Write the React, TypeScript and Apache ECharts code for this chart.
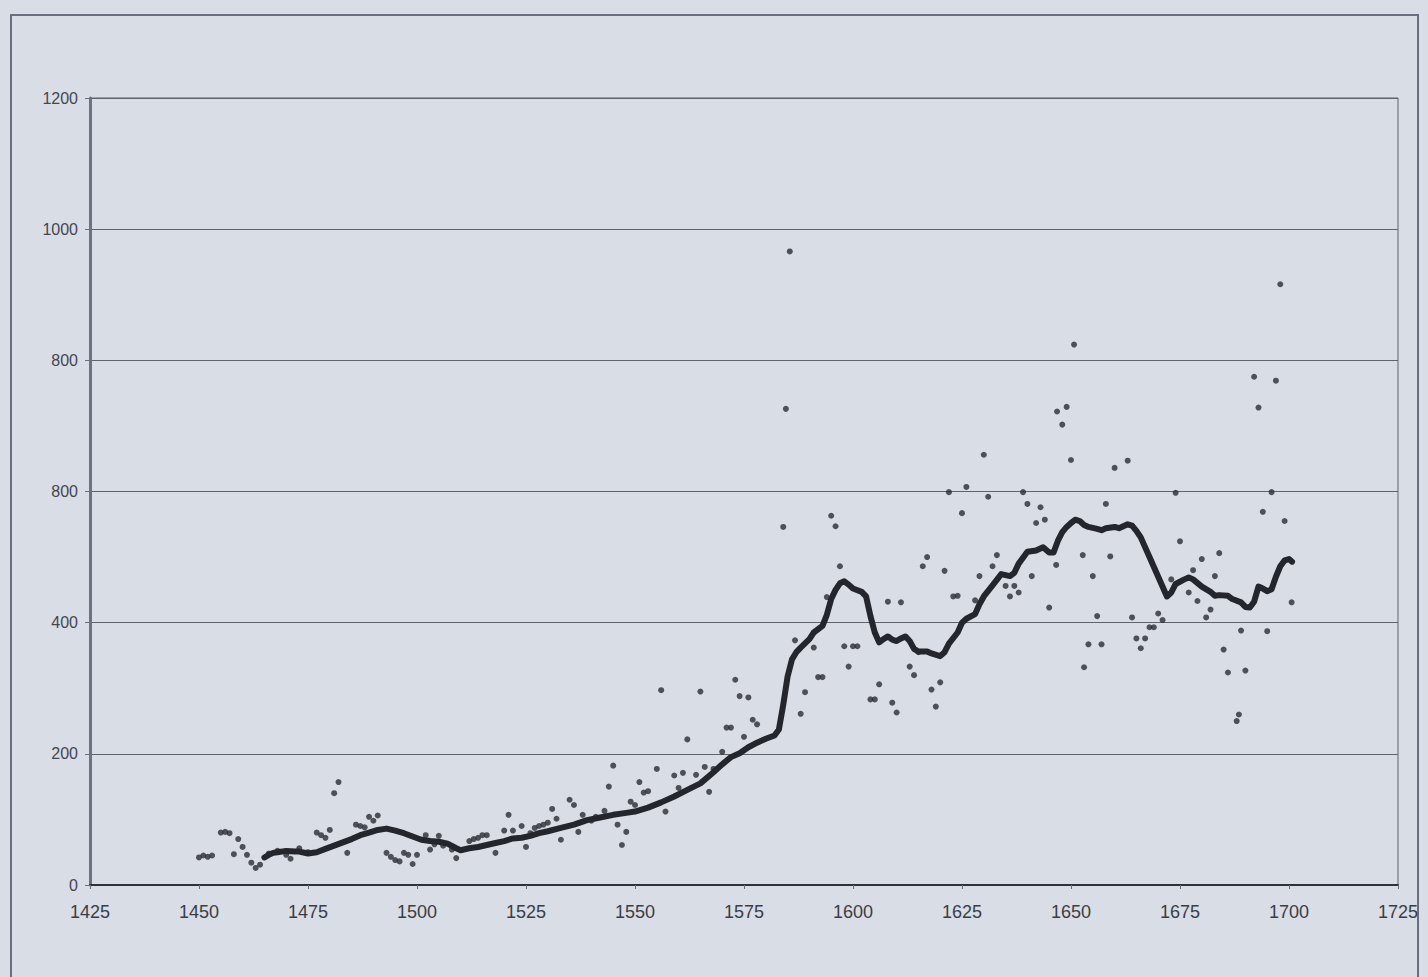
import React, { useEffect, useRef } from "react";
import * as echarts from "echarts";

// Axis ticks as printed on the chart (the scan shows "800" at the 600 gridline)
const yTickLabels: string[] = ["0", "200", "400", "800", "800", "1000", "1200"];
const xMin = 1425;
const xMax = 1725;
const xStep = 25;
const yMin = 0;
const yMax = 1200;
const yStep = 200;

// Moving-average (thick line): [year, value]
const trendPoints: [number, number][] = [
  [1465, 42], [1466, 46], [1467, 49], [1468, 50], [1470, 52], [1472, 51], [1473, 51],
  [1475, 48], [1477, 50], [1479, 55], [1481, 60], [1483, 65], [1485, 70], [1487, 76],
  [1489, 80], [1491, 84], [1493, 86], [1495, 83], [1497, 79], [1499, 74], [1501, 69],
  [1503, 67], [1505, 66], [1507, 63], [1509, 56], [1510, 53], [1512, 56], [1514, 58],
  [1516, 61], [1518, 64], [1520, 67], [1522, 71], [1524, 72], [1526, 75], [1528, 79],
  [1530, 82], [1533, 87], [1536, 92], [1539, 99], [1542, 103], [1545, 107], [1548, 110],
  [1550, 112], [1553, 118], [1556, 126], [1559, 135], [1562, 145], [1565, 155], [1568, 172],
  [1570, 184], [1572, 195], [1574, 201], [1576, 210], [1578, 217], [1580, 223], [1582, 228],
  [1583, 237], [1584, 275], [1585, 318], [1586, 344], [1587, 355], [1588, 362], [1590, 375],
  [1591, 385], [1593, 395], [1594, 412], [1595, 436], [1596, 450], [1597, 460], [1598, 463],
  [1599, 458], [1600, 452], [1602, 447], [1603, 440], [1604, 410], [1605, 385], [1606, 370],
  [1607, 375], [1608, 379], [1609, 374], [1610, 372], [1611, 376], [1612, 379], [1613, 372],
  [1614, 360], [1615, 356], [1617, 356], [1618, 353], [1620, 349], [1621, 355], [1622, 368],
  [1624, 385], [1625, 400], [1626, 406], [1628, 413], [1629, 428], [1630, 440], [1632, 457],
  [1634, 474], [1636, 471], [1637, 476], [1638, 490], [1640, 508], [1642, 510], [1643.6, 515],
  [1645, 507], [1646, 507], [1647, 525], [1648, 538], [1649, 546], [1650, 552], [1651, 557],
  [1652, 555], [1653, 549], [1654, 546], [1656, 543], [1657, 541], [1658, 544], [1660, 546],
  [1661, 544], [1663, 550], [1664, 548], [1665, 540], [1666, 530], [1668, 500], [1670, 470],
  [1672, 440], [1673, 446], [1674, 459], [1676, 466], [1677, 469], [1678, 466], [1680, 455],
  [1682, 447], [1683, 441], [1684, 442], [1686, 441], [1687, 436], [1689, 431], [1690, 424],
  [1691, 423], [1692, 432], [1693, 455], [1694, 452], [1695, 448], [1696, 451], [1697, 470],
  [1698, 486], [1699, 495], [1700, 497], [1700.7, 493],
];

// Annual observations (dots): [year, value]
const scatterPoints: [number, number][] = [
  [1450, 42], [1451, 45], [1452, 43], [1453, 45], [1455, 80], [1456, 81], [1457, 79],
  [1458, 47], [1459, 70], [1460, 58], [1461, 46], [1462, 34], [1463, 26], [1464, 31],
  [1466, 48], [1468, 52], [1470, 46], [1471, 40], [1473, 56], [1475, 50],
  [1477, 80], [1478, 76], [1479, 72], [1480, 84], [1481, 140], [1482, 157],
  [1484, 49], [1486, 92], [1487, 90], [1488, 88], [1489, 104], [1490, 98], [1491, 106],
  [1493, 49], [1494, 43], [1495, 38], [1496, 36], [1497, 49], [1498, 46], [1499, 32], [1500, 46],
  [1502, 76], [1503, 54], [1504, 62], [1505, 75], [1506, 60], [1508, 54], [1509, 41],
  [1512, 67], [1513, 70], [1514, 72], [1515, 76], [1516, 76], [1518, 49], [1520, 83],
  [1521, 107], [1522, 83], [1524, 90], [1525, 58], [1526, 79], [1527, 87], [1528, 90],
  [1529, 92], [1530, 95], [1531, 116], [1532, 101], [1533, 69], [1535, 130], [1536, 122],
  [1537, 81], [1538, 107], [1540, 98], [1541, 104], [1543, 113], [1544, 150], [1545, 182],
  [1546, 92], [1547, 61], [1548, 81], [1549, 127], [1550, 122], [1551, 157], [1552, 141],
  [1553, 143], [1555, 177], [1556, 297], [1557, 112], [1559, 167], [1560, 148], [1561, 171],
  [1562, 222], [1564, 168], [1565, 295], [1566, 180], [1567, 142], [1568, 177], [1570, 203],
  [1571, 240], [1572, 240], [1573, 313], [1574, 288], [1575, 226], [1576, 286], [1577, 252],
  [1578, 245], [1584, 546], [1584.6, 726], [1585.5, 966],
  [1586.7, 373], [1588, 261], [1589, 294], [1591, 362], [1592, 317], [1593, 317], [1594, 439],
  [1595, 563], [1596, 547], [1597, 486], [1598, 364], [1599, 333], [1600, 364], [1601, 364],
  [1604, 283], [1605, 283], [1606, 306], [1608, 432], [1609, 278], [1610, 263], [1611, 431],
  [1613, 333], [1614, 320], [1615, 355], [1616, 486], [1617, 500], [1618, 298], [1619, 272],
  [1620, 309], [1621, 479], [1622, 599], [1623, 440], [1624, 441], [1625, 567], [1626, 607],
  [1628, 434], [1629, 471], [1630, 656], [1631, 592], [1632, 486], [1633, 503],
  [1635, 456], [1636, 440], [1637, 456], [1638, 446], [1639, 599], [1640, 581], [1641, 471],
  [1642, 552], [1643, 576], [1644, 557], [1645, 423], [1646.6, 488], [1646.8, 722], [1648, 702],
  [1649, 729], [1650, 648], [1650.7, 824], [1652.7, 503], [1653, 332], [1654, 367], [1655, 471],
  [1656, 410], [1657, 367], [1658, 581], [1659, 501], [1660, 636], [1663, 647], [1664, 408],
  [1665, 376], [1666, 361], [1667, 376], [1668, 393], [1669, 393], [1670, 414], [1671, 404],
  [1673, 466], [1674, 598], [1675, 524], [1677, 446], [1678, 480], [1679, 433], [1680, 497],
  [1681, 408], [1682, 420], [1683, 471], [1684, 506], [1685, 359], [1686, 324], [1688, 250],
  [1688.5, 260], [1689, 388], [1690, 327], [1692, 775], [1693, 728], [1694, 569], [1695, 387],
  [1696, 599], [1697, 769], [1698, 916], [1699, 555], [1700.6, 431],
];

export default function App() {
  const ref = useRef<HTMLDivElement>(null);

  useEffect(() => {
    if (!ref.current) return;
    const chart = echarts.init(ref.current, null, { renderer: "svg" });
    const font = "'Liberation Sans', Arial, sans-serif";
    chart.setOption({
      animation: false,
      backgroundColor: "#d9dde6",
      graphic: [
        {
          type: "rect",
          shape: { x: 11, y: 15, width: 1407, height: 980 },
          style: { fill: "none", stroke: "#6a6f80", lineWidth: 2 },
          silent: true,
        },
      ],
      grid: {
        left: 90,
        top: 98,
        width: 1308,
        height: 787,
        show: true,
        borderColor: "#5f636e",
        borderWidth: 1,
        backgroundColor: "transparent",
      },
      xAxis: {
        type: "value",
        min: xMin,
        max: xMax,
        interval: xStep,
        axisLine: { show: true, lineStyle: { color: "#2f323a", width: 2 } },
        axisTick: { show: true, length: 4, lineStyle: { color: "#6b6f7a" } },
        axisLabel: {
          color: "#3a3d45",
          fontSize: 18,
          fontFamily: font,
          margin: 18,
          formatter: (v: number) => String(v),
        },
        splitLine: { show: false },
      },
      yAxis: {
        type: "value",
        min: yMin,
        max: yMax,
        interval: yStep,
        axisLine: { show: true, lineStyle: { color: "#6d7282", width: 3 } },
        axisTick: { show: true, length: 5, lineStyle: { color: "#6b6f7a" } },
        axisLabel: {
          color: "#44474f",
          fontSize: 16,
          fontFamily: font,
          margin: 12,
          formatter: (v: number) => yTickLabels[Math.round(v / yStep)] ?? String(v),
        },
        splitLine: { show: true, lineStyle: { color: "#5f636e", width: 1 } },
      },
      series: [
        {
          type: "scatter",
          data: scatterPoints,
          symbol: "circle",
          symbolSize: 6,
          itemStyle: { color: "#2a2d35" },
          z: 2,
        },
        {
          type: "line",
          data: trendPoints,
          showSymbol: false,
          symbol: "none",
          lineStyle: { color: "#23262d", width: 6, join: "round", cap: "round" },
          z: 3,
        },
      ],
    });
    return () => chart.dispose();
  }, []);

  return (
    <div
      ref={ref}
      style={{ position: "absolute", left: 0, top: 0, width: 1428, height: 977 }}
    />
  );
}
